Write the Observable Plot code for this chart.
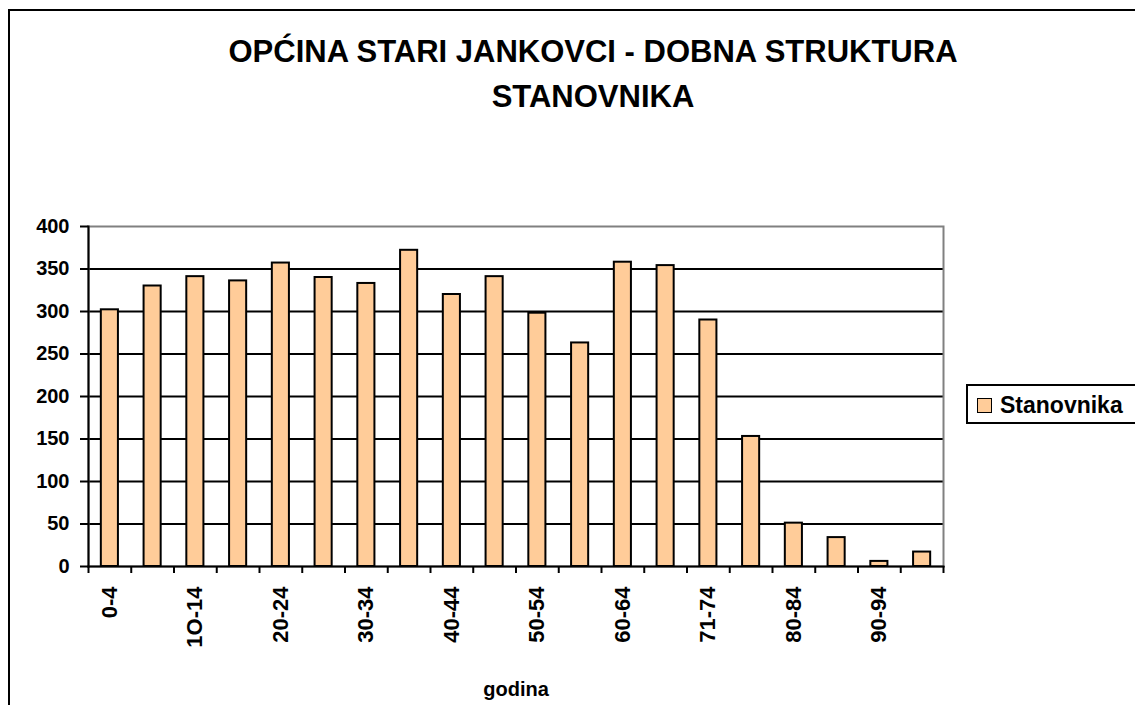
<!DOCTYPE html>
<html><head><meta charset="utf-8">
<script src="https://cdn.jsdelivr.net/npm/d3@7"></script>
<script src="https://cdn.jsdelivr.net/npm/@observablehq/plot@0.6"></script>
<style>
body{margin:0;background:#fff;}
#wrap{position:relative;width:1135px;height:705px;overflow:hidden;font-family:"Liberation Sans",Arial,sans-serif;}
#frame{position:absolute;left:8px;top:9px;width:1200px;height:800px;border:2px solid #000;box-sizing:border-box;}
#title{position:absolute;left:93px;width:1000px;top:29px;text-align:center;font-weight:bold;font-size:31px;line-height:45px;}
#chart{position:absolute;left:0;top:0;}
#legend{position:absolute;left:966px;top:384px;width:220px;height:40px;border:2px solid #000;box-sizing:border-box;background:#fff;}
#legend .sw{position:absolute;left:9px;top:12px;width:15px;height:15px;background:#FFCC99;border:1.5px solid #000;box-sizing:border-box;}
#legend .lb{position:absolute;left:32px;top:1px;line-height:36px;font-size:23px;font-weight:bold;}
</style>
</head><body>
<div id="wrap">
  <div id="frame"></div>
  <div id="title"></div>
  <div id="chart"></div>
  <div id="legend"><div class="sw"></div><div class="lb"></div></div>
</div>
<script>
const titleLines = ["OPĆINA STARI JANKOVCI - DOBNA STRUKTURA", "STANOVNIKA"];
const seriesName = "Stanovnika";
const xTitle = "godina";
const categories = ["0-4","5-9","1O-14","15-19","20-24","25-29","30-34","35-39","40-44","45-49","50-54","55-59","60-64","65-69","71-74","75-79","80-84","85-89","90-94","95+"];
const values = [302,330,341,336,357,340,333,372,320,341,298,263,358,354,290,153,51,34,6,17];
const tickLabels = ["0-4","1O-14","20-24","30-34","40-44","50-54","60-64","71-74","80-84","90-94"];
const yTicks = [0,50,100,150,200,250,300,350,400];

document.getElementById("title").innerHTML = titleLines.join("<br>");
document.querySelector("#legend .lb").textContent = seriesName;

const data = categories.map((c, i) => ({cat: c, value: values[i]}));
const W = 1135, H = 705, mL = 88, mR = 192, mT = 226, mB = 139;
const step = (W - mL - mR) / categories.length;
const font = '"Liberation Sans", Arial, sans-serif';

const chart = Plot.plot({
  width: W, height: H,
  marginLeft: mL, marginRight: mR, marginTop: mT, marginBottom: mB,
  style: {fontFamily: font, fontWeight: "bold", fontSize: "20px", background: "transparent", color: "#000", overflow: "visible"},
  x: {domain: categories, paddingInner: 0.6, paddingOuter: 0.3, round: false},
  y: {domain: [0, 400]},
  marks: [
    Plot.gridY(yTicks.filter(v => v > 0 && v < 400), {stroke: "#000", strokeOpacity: 1, strokeWidth: 2}),
    Plot.frame({stroke: "#808080", strokeWidth: 2}),
    Plot.barY(data, {x: "cat", y: "value", fill: "#FFCC99", stroke: "#000", strokeWidth: 2}),
    Plot.axisY(yTicks, {tickSize: 8, tickPadding: 11, fontSize: 20, fontWeight: "bold", strokeWidth: 2, label: null}),
    Plot.axisX(categories, {tickSize: 7, dx: -step / 2, text: null, label: null, strokeWidth: 2}),
    Plot.axisX([categories[categories.length - 1]], {tickSize: 7, dx: step / 2, text: null, label: null, strokeWidth: 2}),
    Plot.axisX(tickLabels, {tickSize: 0, tickRotate: -90, tickPadding: 20, fontSize: 22, fontWeight: "bold", label: null}),
    Plot.frame({anchor: "left", stroke: "#000", strokeWidth: 2}),
    Plot.frame({anchor: "bottom", stroke: "#000", strokeWidth: 2}),
    Plot.text([xTitle], {text: d => d, frameAnchor: "bottom", dy: 129, fontSize: 20, fontWeight: "bold", lineAnchor: "bottom"})
  ]
});
document.getElementById("chart").appendChild(chart);
</script>
</body></html>
